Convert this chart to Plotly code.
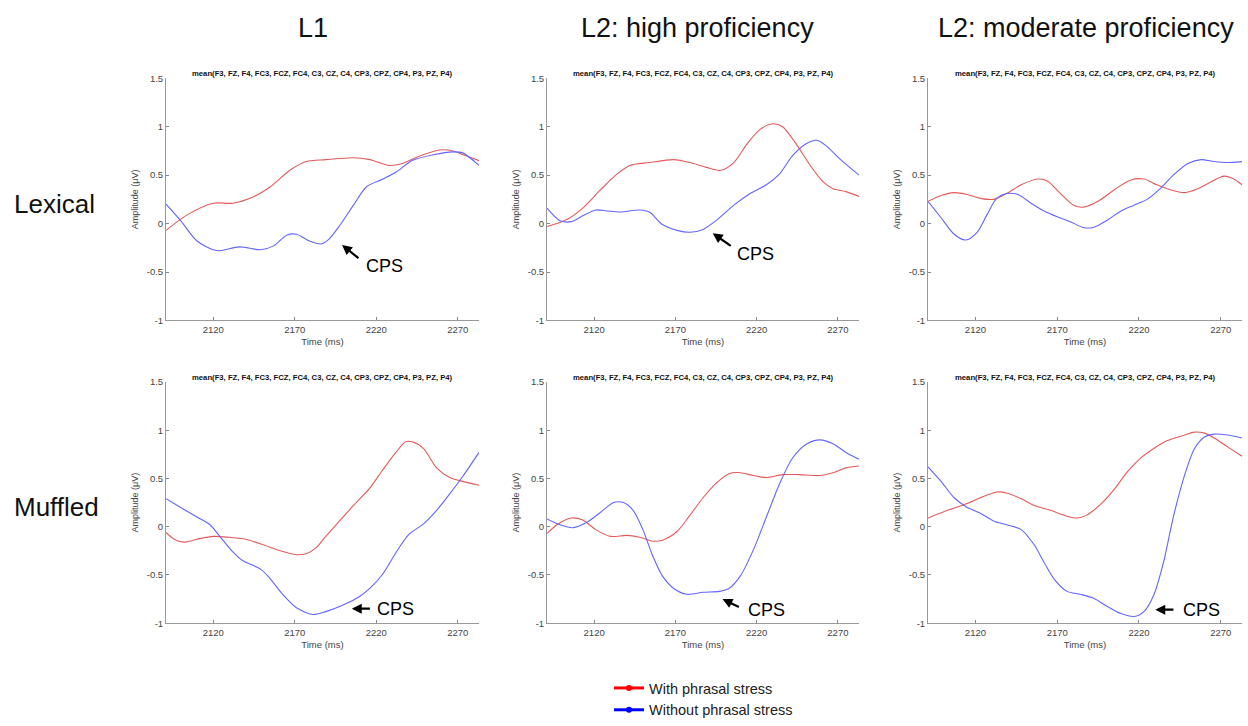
import plotly.graph_objects as go

# ---------------- data ----------------
col_titles = ["L1", "L2: high proficiency", "L2: moderate proficiency"]
row_titles = ["Lexical", "Muffled"]
series_names = ["With phrasal stress", "Without phrasal stress"]
x_ticks = [2120, 2170, 2220, 2270]
y_ticks = [1.5, 1, 0.5, 0, -0.5, -1]
y_tick_text = ["1.5", "1", "0.5", "0", "-0.5", "-1"]
panel_title = "mean(F3, FZ, F4, FC3, FCZ, FC4, C3, CZ, C4, CP3, CPZ, CP4, P3, PZ, P4)"

# Lexical / L1
lex_l1_with_t = [2091, 2104, 2120, 2132, 2145, 2155, 2167, 2177, 2189, 2206, 2216, 2228, 2236, 2247, 2259, 2267, 2275, 2283]
lex_l1_with_v = [-0.07, 0.09, 0.21, 0.21, 0.28, 0.38, 0.55, 0.64, 0.66, 0.68, 0.66, 0.60, 0.62, 0.70, 0.76, 0.75, 0.70, 0.65]
lex_l1_without_t = [2091, 2100, 2110, 2120, 2124, 2136, 2149, 2157, 2165, 2171, 2179, 2186, 2191, 2198, 2206, 2214, 2224, 2232, 2242, 2255, 2267, 2273, 2283]
lex_l1_without_v = [0.20, 0.03, -0.18, -0.27, -0.28, -0.24, -0.27, -0.23, -0.12, -0.11, -0.18, -0.21, -0.16, -0.01, 0.19, 0.38, 0.46, 0.53, 0.65, 0.71, 0.74, 0.73, 0.60]

# Lexical / L2 high
lex_hi_with_t = [2091, 2103, 2113, 2124, 2134, 2142, 2154, 2169, 2179, 2189, 2198, 2206, 2214, 2222, 2230, 2236, 2244, 2253, 2261, 2267, 2275, 2283]
lex_hi_with_v = [-0.03, 0.04, 0.16, 0.35, 0.51, 0.60, 0.63, 0.66, 0.63, 0.58, 0.55, 0.63, 0.82, 0.97, 1.03, 1.00, 0.83, 0.60, 0.43, 0.36, 0.33, 0.28]
lex_hi_without_t = [2091, 2099, 2106, 2113, 2121, 2128, 2136, 2148, 2154, 2162, 2171, 2179, 2187, 2195, 2206, 2216, 2226, 2234, 2242, 2251, 2257, 2263, 2271, 2283]
lex_hi_without_v = [0.16, 0.03, 0.02, 0.08, 0.14, 0.13, 0.12, 0.14, 0.12, -0.01, -0.07, -0.09, -0.06, 0.03, 0.19, 0.31, 0.40, 0.51, 0.70, 0.83, 0.86, 0.80, 0.67, 0.50]

# Lexical / L2 moderate
lex_mod_with_t = [2091, 2099, 2107, 2115, 2123, 2131, 2139, 2148, 2158, 2164, 2172, 2180, 2186, 2195, 2205, 2215, 2223, 2231, 2239, 2248, 2256, 2264, 2272, 2278, 2283]
lex_mod_with_v = [0.23, 0.29, 0.32, 0.30, 0.26, 0.25, 0.31, 0.40, 0.46, 0.44, 0.31, 0.19, 0.17, 0.23, 0.35, 0.45, 0.46, 0.40, 0.35, 0.32, 0.36, 0.43, 0.49, 0.46, 0.40]
lex_mod_without_t = [2091, 2099, 2107, 2114, 2121, 2127, 2133, 2139, 2146, 2154, 2162, 2170, 2178, 2186, 2192, 2201, 2209, 2217, 2225, 2233, 2241, 2250, 2258, 2266, 2274, 2283]
lex_mod_without_v = [0.23, 0.06, -0.11, -0.17, -0.09, 0.09, 0.26, 0.31, 0.30, 0.21, 0.13, 0.07, 0.02, -0.04, -0.04, 0.04, 0.13, 0.19, 0.25, 0.36, 0.50, 0.62, 0.66, 0.64, 0.63, 0.64]

# Muffled / L1
muf_l1_with_t = [2091, 2096, 2102, 2110, 2120, 2130, 2140, 2151, 2161, 2171, 2177, 2183, 2189, 2198, 2206, 2216, 2224, 2232, 2238, 2242, 2249, 2257, 2265, 2273, 2283]
muf_l1_with_v = [-0.06, -0.13, -0.16, -0.13, -0.10, -0.11, -0.13, -0.19, -0.25, -0.29, -0.28, -0.22, -0.10, 0.07, 0.22, 0.40, 0.59, 0.77, 0.88, 0.88, 0.81, 0.61, 0.51, 0.47, 0.43]
muf_l1_without_t = [2091, 2100, 2110, 2118, 2124, 2132, 2138, 2149, 2155, 2163, 2171, 2181, 2189, 2200, 2210, 2216, 2224, 2232, 2240, 2249, 2257, 2265, 2273, 2283]
muf_l1_without_v = [0.29, 0.20, 0.10, 0.02, -0.10, -0.26, -0.35, -0.44, -0.54, -0.71, -0.84, -0.91, -0.88, -0.81, -0.72, -0.64, -0.49, -0.27, -0.08, 0.03, 0.17, 0.34, 0.52, 0.77]

# Muffled / L2 high
muf_hi_with_t = [2091, 2098, 2106, 2113, 2121, 2130, 2140, 2148, 2156, 2162, 2171, 2179, 2187, 2195, 2203, 2210, 2218, 2226, 2236, 2246, 2259, 2267, 2275, 2283]
muf_hi_with_v = [-0.07, 0.03, 0.09, 0.07, -0.03, -0.10, -0.09, -0.11, -0.15, -0.14, -0.05, 0.12, 0.30, 0.45, 0.55, 0.56, 0.53, 0.51, 0.54, 0.54, 0.53, 0.56, 0.61, 0.63]
muf_hi_without_t = [2091, 2099, 2107, 2115, 2124, 2132, 2138, 2144, 2150, 2156, 2162, 2169, 2177, 2187, 2197, 2203, 2210, 2218, 2226, 2234, 2242, 2251, 2259, 2267, 2275, 2283]
muf_hi_without_v = [0.08, 0.02, -0.01, 0.04, 0.15, 0.25, 0.25, 0.17, -0.03, -0.30, -0.51, -0.64, -0.70, -0.68, -0.67, -0.64, -0.51, -0.24, 0.10, 0.44, 0.71, 0.86, 0.90, 0.86, 0.77, 0.70]

# Muffled / L2 moderate
muf_mod_with_t = [2091, 2103, 2115, 2123, 2133, 2139, 2148, 2156, 2166, 2174, 2182, 2188, 2197, 2205, 2213, 2221, 2229, 2237, 2246, 2254, 2260, 2266, 2274, 2283]
muf_mod_with_v = [0.09, 0.17, 0.24, 0.30, 0.36, 0.35, 0.29, 0.22, 0.17, 0.12, 0.09, 0.12, 0.24, 0.39, 0.57, 0.71, 0.81, 0.89, 0.94, 0.98, 0.97, 0.92, 0.83, 0.73]
muf_mod_without_t = [2091, 2099, 2107, 2115, 2123, 2131, 2139, 2148, 2156, 2162, 2168, 2176, 2184, 2192, 2201, 2209, 2217, 2223, 2229, 2235, 2241, 2248, 2254, 2260, 2266, 2274, 2283]
muf_mod_without_v = [0.62, 0.47, 0.30, 0.20, 0.14, 0.06, 0.02, -0.03, -0.19, -0.37, -0.54, -0.67, -0.70, -0.74, -0.83, -0.90, -0.93, -0.88, -0.71, -0.37, 0.10, 0.54, 0.81, 0.93, 0.96, 0.95, 0.92]

# CPS annotations
cps_panels = [0, 1, 3, 4, 5]
cps_head_x = [2199, 2193, 2205, 2199, 2230]
cps_head_y = [-0.22, -0.10, -0.85, -0.75, -0.86]
cps_tail_x = [2210, 2205, 2217, 2210, 2242]
cps_tail_y = [-0.37, -0.24, -0.85, -0.84, -0.86]
cps_text_x = [2225, 2219, 2232, 2226, 2258]
cps_text_y = [-0.44, -0.31, -0.85, -0.86, -0.86]

panels = [
    (lex_l1_with_t, lex_l1_with_v, lex_l1_without_t, lex_l1_without_v),
    (lex_hi_with_t, lex_hi_with_v, lex_hi_without_t, lex_hi_without_v),
    (lex_mod_with_t, lex_mod_with_v, lex_mod_without_t, lex_mod_without_v),
    (muf_l1_with_t, muf_l1_with_v, muf_l1_without_t, muf_l1_without_v),
    (muf_hi_with_t, muf_hi_with_v, muf_hi_without_t, muf_hi_without_v),
    (muf_mod_with_t, muf_mod_with_v, muf_mod_without_t, muf_mod_without_v),
]

# ---------------- layout geometry ----------------
W, H = 1248, 726
col_px = [(166, 479), (547, 859), (928, 1242)]
row_px = [(74, 322), (385, 632)]

RED = "rgb(228,90,90)"
BLUE = "rgb(100,100,255)"
FONT = "Liberation Sans, Arial, sans-serif"

fig = go.Figure()
layout = dict(
    width=W, height=H, autosize=False,
    margin=dict(l=0, r=0, t=0, b=0),
    paper_bgcolor="white", plot_bgcolor="white",
    font=dict(family=FONT, color="#222"),
    showlegend=True,
)
annotations = []

for i, (wt, wv, ot, ov) in enumerate(panels):
    r, c = divmod(i, 3)
    k = "" if i == 0 else str(i + 1)
    xa, ya = "x" + k, "y" + k
    fig.add_trace(go.Scatter(x=wt, y=wv, mode="lines", line=dict(color=RED, width=1.1, shape="spline", smoothing=0.8),
                             xaxis=xa, yaxis=ya, showlegend=False, hoverinfo="skip"))
    fig.add_trace(go.Scatter(x=ot, y=ov, mode="lines", line=dict(color=BLUE, width=1.1, shape="spline", smoothing=0.8),
                             xaxis=xa, yaxis=ya, showlegend=False, hoverinfo="skip"))
    x0, x1 = col_px[c]
    y0, y1 = row_px[r]
    layout["xaxis" + k] = dict(
        domain=[x0 / W, x1 / W], anchor=ya, range=[2091, 2283],
        tickvals=x_ticks, ticks="inside", ticklen=3, tickcolor="#888",
        showline=True, linecolor="#999", linewidth=1, showgrid=False, zeroline=False,
        tickfont=dict(size=9.5, color="#444", family=FONT),
        title=dict(text="Time (ms)", font=dict(size=9.5, color="#444", family=FONT), standoff=4),
    )
    layout["yaxis" + k] = dict(
        domain=[1 - y1 / H, 1 - y0 / H], anchor=xa, range=[-1, 1.5],
        tickvals=y_ticks, ticktext=y_tick_text, ticks="inside", ticklen=3, tickcolor="#888",
        showline=True, linecolor="#999", linewidth=1, showgrid=False, zeroline=False,
        tickfont=dict(size=9.5, color="#444", family=FONT),
        title=dict(text="Amplitude (μV)", font=dict(size=9, color="#444", family=FONT), standoff=6),
    )
    annotations.append(dict(
        text="<b>" + panel_title + "</b>", xref="paper", yref="paper",
        x=((x0 + x1) / 2) / W, y=1 - (y0 - 5) / H, showarrow=False,
        xanchor="center", yanchor="middle", font=dict(size=7.7, color="#111", family=FONT),
    ))

for j, p in enumerate(cps_panels):
    k = "" if p == 0 else str(p + 1)
    annotations.append(dict(
        x=cps_head_x[j], y=cps_head_y[j], ax=cps_tail_x[j], ay=cps_tail_y[j],
        xref="x" + k, yref="y" + k, axref="x" + k, ayref="y" + k,
        text="", showarrow=True, arrowhead=2, arrowsize=0.9, arrowwidth=2.2, arrowcolor="black",
    ))
    annotations.append(dict(
        x=cps_text_x[j], y=cps_text_y[j], xref="x" + k, yref="y" + k,
        text="CPS", showarrow=False, xanchor="center", yanchor="middle",
        font=dict(size=18, color="black", family=FONT),
    ))

col_centers = [313, 697, 1086]
for c, t in enumerate(col_titles):
    annotations.append(dict(text=t, xref="paper", yref="paper", x=col_centers[c] / W, y=1 - 23 / H,
                            showarrow=False, xanchor="center", yanchor="middle",
                            font=dict(size=27, color="#111", family=FONT)))
row_centers = [203, 513]
for r, t in enumerate(row_titles):
    annotations.append(dict(text=t, xref="paper", yref="paper", x=12 / W, y=1 - row_centers[r] / H,
                            showarrow=False, xanchor="left", yanchor="middle",
                            font=dict(size=26, color="#111", family=FONT)))

# legend entries
fig.add_trace(go.Scatter(x=[None], y=[None], mode="lines+markers", name=series_names[0],
                         line=dict(color="red", width=3), marker=dict(color="red", size=6)))
fig.add_trace(go.Scatter(x=[None], y=[None], mode="lines+markers", name=series_names[1],
                         line=dict(color="blue", width=3), marker=dict(color="blue", size=6)))

layout["legend"] = dict(x=609 / W, y=1 - 682 / H, xanchor="left", yanchor="top",
                        font=dict(size=14.5, color="#222", family=FONT), bgcolor="rgba(0,0,0,0)",
                        itemwidth=30, tracegroupgap=0)
layout["annotations"] = annotations
fig.update_layout(**layout)
fig.write_html("out.html", config={"displayModeBar": False},
               post_script="document.body.style.margin='0';document.body.style.overflow='hidden';")
